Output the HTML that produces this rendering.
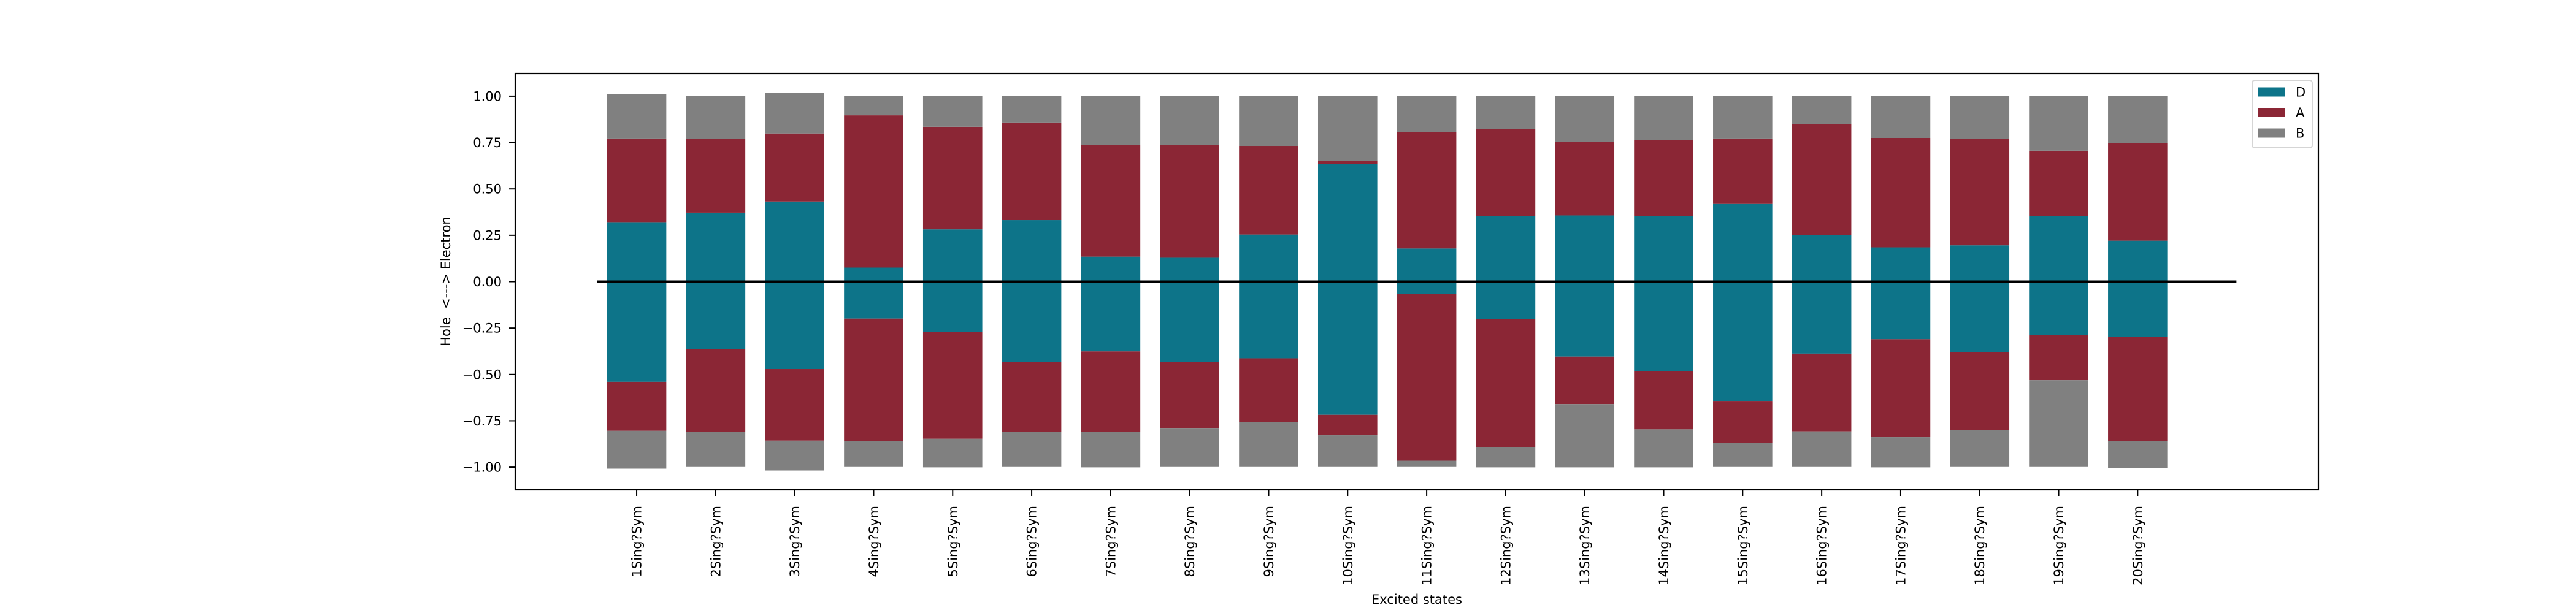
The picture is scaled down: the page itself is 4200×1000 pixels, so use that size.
<!DOCTYPE html>
<html><head><meta charset="utf-8"><style>
html,body{margin:0;padding:0;background:#fff;}
svg{display:block;font-family:"DejaVu Sans","Liberation Sans",sans-serif;}
</style></head><body>
<svg id="chart" width="4200" height="1000" viewBox="0 0 4200 1000" xmlns="http://www.w3.org/2000/svg">
<rect x="0" y="0" width="4200" height="1000" fill="#fff"/>
<g id="bars"></g>
<g id="axes"></g>
</svg>
<script>
const categories = ["1Sing?Sym","2Sing?Sym","3Sing?Sym","4Sing?Sym","5Sing?Sym","6Sing?Sym","7Sing?Sym","8Sing?Sym","9Sing?Sym","10Sing?Sym","11Sing?Sym","12Sing?Sym","13Sing?Sym","14Sing?Sym","15Sing?Sym","16Sing?Sym","17Sing?Sym","18Sing?Sym","19Sing?Sym","20Sing?Sym"];
const dElectron = [0.321,0.372,0.432,0.076,0.282,0.332,0.135,0.129,0.254,0.633,0.179,0.354,0.357,0.354,0.422,0.251,0.185,0.196,0.354,0.221];
const aElectron = [0.451,0.397,0.367,0.821,0.553,0.526,0.601,0.607,0.478,0.017,0.627,0.468,0.396,0.411,0.350,0.600,0.590,0.573,0.352,0.525];
const bElectron = [0.238,0.231,0.220,0.103,0.168,0.142,0.267,0.264,0.268,0.350,0.194,0.181,0.250,0.238,0.228,0.149,0.228,0.231,0.294,0.257];
const dHole = [0.540,0.365,0.471,0.199,0.271,0.432,0.376,0.432,0.413,0.718,0.065,0.201,0.404,0.482,0.643,0.388,0.310,0.379,0.288,0.299];
const aHole = [0.264,0.445,0.386,0.661,0.576,0.378,0.434,0.360,0.343,0.110,0.900,0.692,0.256,0.314,0.225,0.419,0.528,0.422,0.243,0.559];
const bHole = [0.204,0.189,0.161,0.139,0.154,0.189,0.191,0.207,0.243,0.171,0.034,0.108,0.341,0.205,0.131,0.192,0.163,0.198,0.468,0.147];
const yTicks = [1.0,0.75,0.5,0.25,0.0,-0.25,-0.5,-0.75,-1.0];
const yTickLabels = ["1.00","0.75","0.50","0.25","0.00","\u22120.25","\u22120.50","\u22120.75","\u22121.00"];
const seriesNames = ["D","A","B"];
const seriesColors = ["#0d7489","#8b2635","#808080"];

const NS="http://www.w3.org/2000/svg";
const L=840,R=3780,T=120,B=799;
const xmin=-1.5375,xmax=21.2875,ymin=-1.122,ymax=1.122;
function xs(v){return L+(v-xmin)/(xmax-xmin)*(R-L);}
function ys(v){return B-(v-ymin)/(ymax-ymin)*(B-T);}
function mk(tag,attrs,parent){const e=document.createElementNS(NS,tag);for(const k in attrs)e.setAttribute(k,attrs[k]);parent.appendChild(e);return e;}
const barsG=document.getElementById('bars');
const axesG=document.getElementById('axes');
const bw=0.75;
categories.forEach((c,i)=>{
  const segs=[[0,dElectron[i],0],[dElectron[i],aElectron[i],1],[dElectron[i]+aElectron[i],bElectron[i],2],
              [0,-dHole[i],0],[-dHole[i],-aHole[i],1],[-dHole[i]-aHole[i],-bHole[i],2]];
  segs.forEach((s,j)=>{
    const y0=ys(s[0]),y1=ys(s[0]+s[1]);
    const r=mk('rect',{x:xs(i-bw/2),y:Math.min(y0,y1),width:xs(i+bw/2)-xs(i-bw/2),height:Math.abs(y1-y0),fill:seriesColors[s[2]]},barsG);
    
    
  });
});
const zl=mk('line',{x1:xs(-0.5),x2:xs(20.25),y1:ys(0),y2:ys(0),stroke:'#000','stroke-width':4},axesG);


const fr=mk('rect',{x:L,y:T,width:R-L,height:B-T,fill:'none',stroke:'#000','stroke-width':2.2},axesG);


yTicks.forEach((v,i)=>{
  const y=ys(v);
  const t=mk('line',{x1:L-10,x2:L,y1:y,y2:y,stroke:'#000','stroke-width':2},axesG);
  
  
  const tx=mk('text',{x:818,y:y+7.5,'text-anchor':'end','font-size':21,fill:'#000'},axesG);
  tx.textContent=yTickLabels[i];
  
  
});
categories.forEach((c,i)=>{
  const x=xs(i);
  const t=mk('line',{x1:x,x2:x,y1:B,y2:B+10,stroke:'#000','stroke-width':2},axesG);
  
  
  const tx=mk('text',{x:0,y:0,'text-anchor':'end','font-size':21,fill:'#000',transform:'translate('+(x+7.5)+',825) rotate(-90)'},axesG);
  tx.textContent=c;
  
  
});
const yl=mk('text',{x:0,y:0,'text-anchor':'middle','font-size':21,fill:'#000',transform:'translate(734,459) rotate(-90)',style:'white-space:pre'},axesG);
yl.textContent='Hole  <---> Electron';


const xl=mk('text',{x:2310,y:985,'text-anchor':'middle','font-size':21,fill:'#000'},axesG);
xl.textContent='Excited states';


const lg=mk('g',{},axesG);


const lb=mk('rect',{x:3672,y:131,width:98,height:110,rx:4,fill:'#fff','fill-opacity':0.8,stroke:'#d5d5d5','stroke-width':2},lg);


seriesNames.forEach((n,i)=>{
  const cy=150+i*33.5;
  const p=mk('rect',{x:3681,y:cy-7.5,width:44,height:15,fill:seriesColors[i]},lg);
  
  
  const t=mk('text',{x:3743,y:cy+7.5,'font-size':21,fill:'#000'},lg);
  t.textContent=n;
  
  
});
</script>
</body></html>
